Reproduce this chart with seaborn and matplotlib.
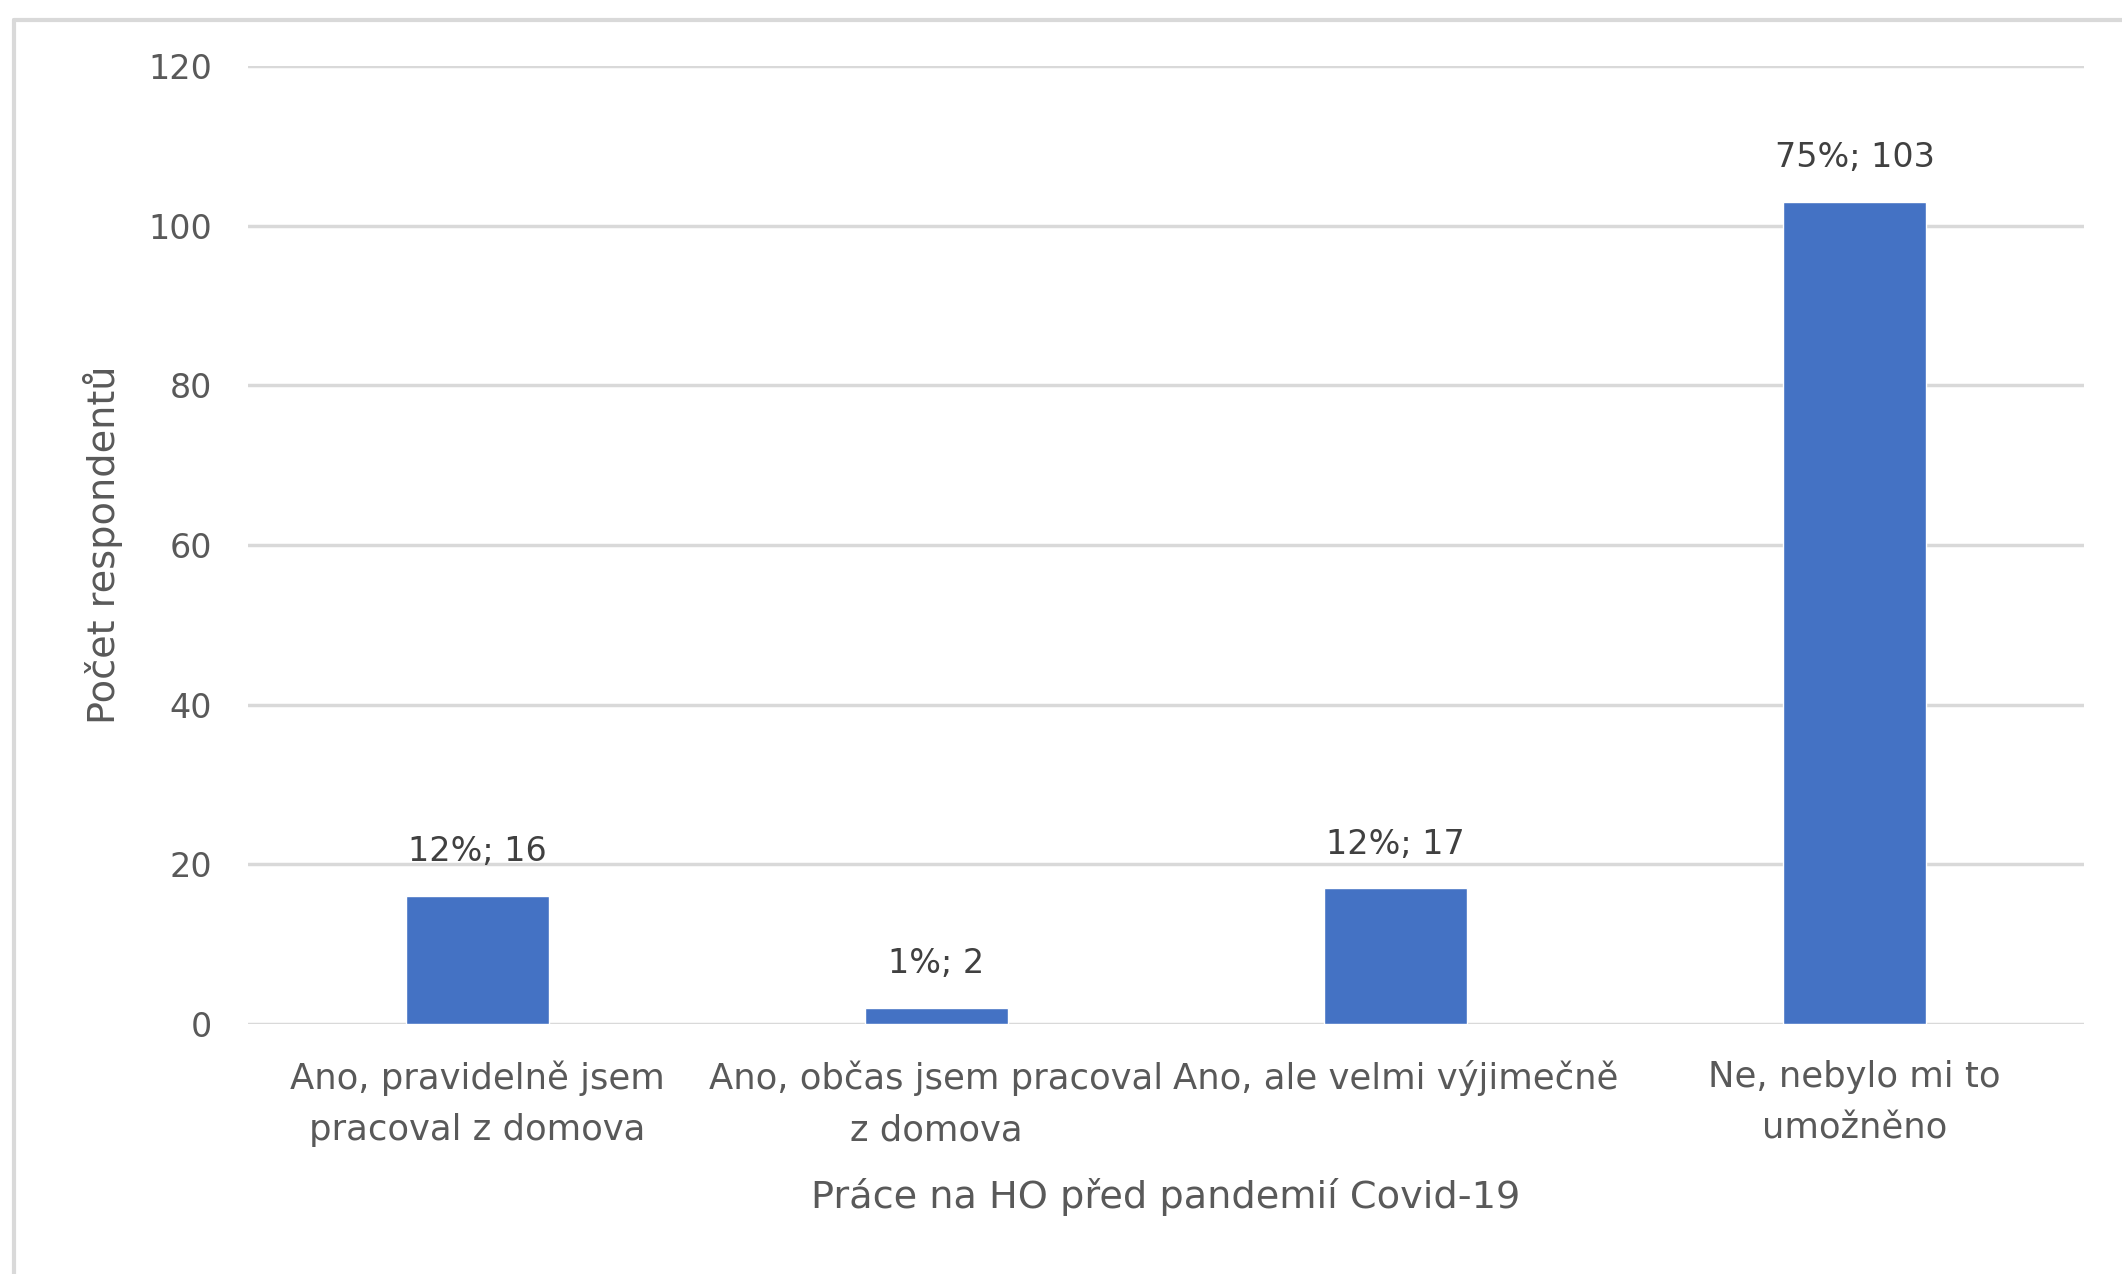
import pandas as pd
import matplotlib.pyplot as plt
import seaborn as sns
from matplotlib.lines import Line2D

categories = ['Ano, pravidelně jsem\npracoval z domova',
              'Ano, občas jsem pracoval\nz domova',
              'Ano, ale velmi výjimečně',
              'Ne, nebylo mi to\numožněno']
counts = [16, 2, 17, 103]
percents = ['12%', '1%', '12%', '75%']
y_ticks = [0, 20, 40, 60, 80, 100, 120]

df = pd.DataFrame({'kategorie': categories, 'pocet': counts})

sns.set_style('white')
plt.rcParams['font.family'] = ['DejaVu Sans']

text_color = '#595959'
grid_color = '#D9D9D9'

fig = plt.figure(figsize=(21.22, 12.74), dpi=100)
ax = fig.add_axes([248 / 2122, 1 - 1024 / 1274, (2084 - 248) / 2122, (1024 - 66) / 1274])

sns.barplot(data=df, x='kategorie', y='pocet', color='#4472C4', width=0.31,
            saturation=1, ax=ax, zorder=3)

ax.set_ylim(0, 120)
ax.set_xlim(-0.5, 3.5)
ax.set_yticks(y_ticks)
ax.yaxis.grid(True, color=grid_color, linewidth=2.5, zorder=0)
ax.set_axisbelow(True)
for s in ax.spines.values():
    s.set_visible(False)
ax.tick_params(axis='y', length=0, colors=text_color, labelsize=24, pad=26)
ax.tick_params(axis='x', length=0, colors=text_color, labelsize=25.5, pad=26)
for lbl in ax.get_xticklabels():
    lbl.set_linespacing(1.65)

ax.set_xlabel('Práce na HO před pandemií Covid-19', fontsize=27.5, color=text_color, labelpad=22)
ax.set_ylabel('Počet respondentů', fontsize=27.5, color=text_color, labelpad=18)

for i, (c, p) in enumerate(zip(counts, percents)):
    ax.annotate(f'{p}; {c}', xy=(i, c), xytext=(0, 20), textcoords='offset points',
                ha='center', va='bottom', fontsize=24, color='#404040')

# light frame like the Excel chart area (left and top edges visible)
fig.add_artist(Line2D([14 / 2122, 14 / 2122], [0, 1 - 20 / 1274], transform=fig.transFigure,
                      color=grid_color, linewidth=3))
fig.add_artist(Line2D([14 / 2122, 1], [1 - 20 / 1274, 1 - 20 / 1274], transform=fig.transFigure,
                      color=grid_color, linewidth=3))

plt.savefig('out.png', dpi=100)
plt.close()
